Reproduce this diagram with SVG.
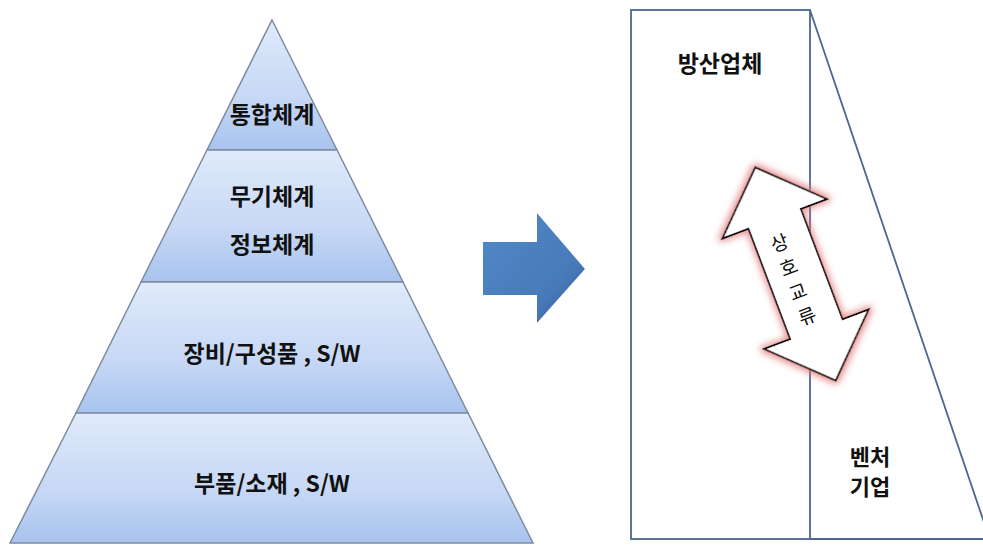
<svg xmlns="http://www.w3.org/2000/svg" width="983" height="546" viewBox="0 0 983 546">
<style>
.band{stroke:#7d8ba3;stroke-width:1.5;fill:url(#bandGrad)}
.lbl{font-family:"Noto Sans CJK KR","Liberation Sans",sans-serif;font-weight:bold;font-size:23px;fill:#111;text-anchor:middle;dominant-baseline:central}
.sm{font-size:22px}
.frame{fill:none;stroke:#4d6790;stroke-width:1.8}
.vt{font-family:"Noto Sans CJK KR","Liberation Sans",sans-serif;font-size:19px;fill:#111;text-anchor:middle;dominant-baseline:central}
</style>
<defs>
<linearGradient id="bandGrad" x1="0" y1="0" x2="0" y2="1">
<stop offset="0" stop-color="#e0eafa"/>
<stop offset="0.6" stop-color="#c6d8f5"/>
<stop offset="1" stop-color="#a8c3ee"/>
</linearGradient>
<linearGradient id="blueGrad" x1="0" y1="0" x2="1" y2="1">
<stop offset="0" stop-color="#5389c9"/>
<stop offset="0.7" stop-color="#4779b8"/>
<stop offset="1" stop-color="#2e5587"/>
</linearGradient>
<filter id="glow" x="-30%" y="-30%" width="160%" height="160%">
<feMorphology in="SourceAlpha" operator="dilate" radius="2.5" result="d"/>
<feGaussianBlur in="d" stdDeviation="3.5" result="b"/>
<feFlood flood-color="#e07878" flood-opacity="0.8"/>
<feComposite in2="b" operator="in" result="g"/>
<feMerge><feMergeNode in="g"/><feMergeNode in="SourceGraphic"/></feMerge>
</filter>
<filter id="soft" x="-20%" y="-20%" width="140%" height="140%">
<feGaussianBlur in="SourceAlpha" stdDeviation="2" result="b"/>
<feFlood flood-color="#ffffff"/>
<feComposite in2="b" operator="in" result="w"/>
<feMerge><feMergeNode in="w"/><feMergeNode in="SourceGraphic"/></feMerge>
</filter>
</defs>

<g id="pyramid">
<g id="level1">
<polygon class="band" points="272,20 337,150 207,150"/>
<text class="lbl" x="272" y="113">통합체계</text>
</g>
<g id="level2">
<polygon class="band" points="207,150 337,150 403,282 141,282"/>
<text class="lbl" x="272" y="195">무기체계</text>
<text class="lbl" x="272" y="243">정보체계</text>
</g>
<g id="level3">
<polygon class="band" points="141,282 403,282 468,413 76,413"/>
<text class="lbl" x="272" y="352">장비/구성품 , S/W</text>
</g>
<g id="level4">
<polygon class="band" points="76,413 468,413 533,543 10,543"/>
<text class="lbl" x="272" y="482">부품/소재 , S/W</text>
</g>
</g>

<g id="bigArrow">
<polygon points="483,242 537,242 537,213 585,269 537,323 537,295 483,295" fill="url(#blueGrad)" filter="url(#soft)"/>
</g>

<g id="companies">
<g id="defense">
<rect class="frame" x="631" y="10" width="179" height="529"/>
<text class="lbl" x="720" y="62">방산업체</text>
</g>
<g id="venture">
<polyline class="frame" points="810,10 990,540"/>
<line class="frame" x1="810" y1="539" x2="983" y2="539"/>
<text class="lbl sm" x="870" y="455">벤처</text>
<text class="lbl sm" x="870" y="485">기업</text>
</g>
</g>

<g id="connectors">
<g id="exchange" transform="translate(795.5,274) rotate(-20.7)">
<path d="M0,-114 L56,-59 L28,-59 L28,59 L56,59 L0,114 L-56,59 L-28,59 L-28,-59 L-56,-59 Z" fill="#fff" stroke="#111" stroke-width="1.8" stroke-linejoin="miter" filter="url(#glow)"/>
<text class="vt" x="-4" y="-36">상</text>
<text class="vt" x="-4" y="-10">호</text>
<text class="vt" x="-4" y="16">교</text>
<text class="vt" x="-4" y="42">류</text>
</g>
</g>
</svg>
